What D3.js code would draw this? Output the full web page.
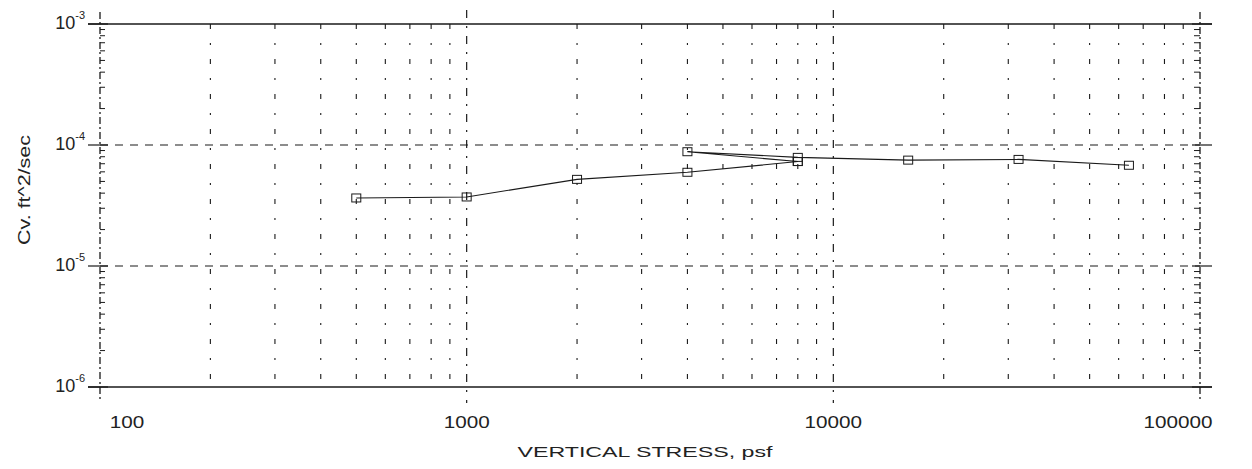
<!DOCTYPE html>
<html><head><meta charset="utf-8">
<script src="https://cdn.jsdelivr.net/npm/d3@7"></script>
<style>body{margin:0;background:#fff;} svg{display:block;} text{font-family:"Liberation Sans",Arial,sans-serif;fill:#222;}</style>
</head><body><svg id="c" width="1252" height="469"></svg>
<script>
const loadStress = [500, 1000, 2000, 4000, 8000];
const loadCv = [3.65e-5, 3.72e-5, 5.2e-5, 5.95e-5, 7.3e-5];
const cycleStress = [8000, 4000, 8000, 16000, 32000, 64000];
const cycleCv = [7.3e-5, 8.8e-5, 7.9e-5, 7.5e-5, 7.6e-5, 6.8e-5];
const xTicks = [100, 1000, 10000, 100000];
const xTickLabels = ["100", "1000", "10000", "100000"];
const yTicks = [1e-3, 1e-4, 1e-5, 1e-6];
const yTickExp = ["-3", "-4", "-5", "-6"];

const svg = d3.select("#c");
const x = d3.scaleLog().domain([100, 100000]).range([100, 1200]);
const y = d3.scaleLog().domain([1e-6, 1e-3]).range([387, 24]);
const ink = "#1a1a1a";

const xMinor = [];
[100, 1000, 10000].forEach(d => { for (let k = 2; k <= 9; k++) xMinor.push(d * k); });
const yMinor = [];
[1e-6, 1e-5, 1e-4].forEach(d => { for (let k = 2; k <= 9; k++) yMinor.push(d * k); });

svg.append("g").selectAll("line").data(xMinor).join("line")
  .attr("x1", d => x(d)).attr("x2", d => x(d)).attr("y1", y(1e-3)).attr("y2", y(1e-6))
  .attr("stroke", ink).attr("stroke-width", 1.1).attr("stroke-dasharray", "5,14,2,14");
svg.append("g").selectAll("line").data([1000, 10000]).join("line")
  .attr("x1", d => x(d)).attr("x2", d => x(d)).attr("y1", y(1e-3) - 14).attr("y2", y(1e-6) + 16)
  .attr("stroke", ink).attr("stroke-width", 1.2).attr("stroke-dasharray", "8,8,2,8");
svg.append("g").selectAll("line").data([100, 100000]).join("line")
  .attr("x1", d => x(d)).attr("x2", d => x(d)).attr("y1", y(1e-3) - 12).attr("y2", y(1e-6) + 14)
  .attr("stroke", ink).attr("stroke-width", 1.3).attr("stroke-dasharray", "7,3,2,3");
svg.append("g").selectAll("line").data([1e-4, 1e-5]).join("line")
  .attr("x1", x(100)).attr("x2", x(100000)).attr("y1", d => y(d)).attr("y2", d => y(d))
  .attr("stroke", ink).attr("stroke-width", 1.2).attr("stroke-dasharray", "8,7");
svg.append("g").selectAll("line").data([1e-3, 1e-6]).join("line")
  .attr("x1", x(100) - 12).attr("x2", x(100000) + 12).attr("y1", d => y(d)).attr("y2", d => y(d))
  .attr("stroke", ink).attr("stroke-width", 1.3);

svg.append("g").selectAll("line").data(yMinor).join("line")
  .attr("x1", x(100)).attr("x2", x(100) + 5).attr("y1", d => y(d)).attr("y2", d => y(d))
  .attr("stroke", ink).attr("stroke-width", 1);
svg.append("g").selectAll("line").data(yMinor).join("line")
  .attr("x1", x(100000)).attr("x2", x(100000) - 6).attr("y1", d => y(d)).attr("y2", d => y(d))
  .attr("stroke", ink).attr("stroke-width", 1);
svg.append("g").selectAll("line").data(yTicks).join("line")
  .attr("x1", x(100) - 12).attr("x2", x(100) + 8).attr("y1", d => y(d)).attr("y2", d => y(d))
  .attr("stroke", ink).attr("stroke-width", 1.2);
svg.append("g").selectAll("line").data(yTicks).join("line")
  .attr("x1", x(100000) - 8).attr("x2", x(100000) + 12).attr("y1", d => y(d)).attr("y2", d => y(d))
  .attr("stroke", ink).attr("stroke-width", 1.2);

const yl = svg.append("g").selectAll("text").data(yTicks).join("text")
  .attr("x", 85).attr("y", d => y(d) + 5).attr("text-anchor", "end").attr("font-size", 18);
yl.append("tspan").text("10");
yl.append("tspan").attr("dy", -10).attr("font-size", 11).text((d, i) => yTickExp[i]);

svg.append("g").selectAll("text").data(xTicks).join("text")
  .attr("x", (d, i) => x(d) + (i === 0 ? 27 : i === 3 ? -22 : 0))
  .attr("y", 428).attr("text-anchor", "middle").attr("font-size", 17)
  .attr("textLength", (d, i) => xTickLabels[i].length * 11.5).attr("lengthAdjust", "spacingAndGlyphs")
  .text((d, i) => xTickLabels[i]);

svg.append("text").attr("x", 645).attr("y", 457).attr("text-anchor", "middle")
  .attr("font-size", 15).attr("textLength", 255).attr("lengthAdjust", "spacingAndGlyphs")
  .text("VERTICAL STRESS, psf");
svg.append("text").attr("transform", "translate(30,190) rotate(-90)").attr("text-anchor", "middle")
  .attr("font-size", 16).attr("textLength", 110).attr("lengthAdjust", "spacingAndGlyphs")
  .text("Cv. ft^2/sec");

const line = d3.line().x(d => x(d[0])).y(d => y(d[1]));
const series = [d3.zip(loadStress, loadCv), d3.zip(cycleStress, cycleCv)];
series.forEach(s => {
  svg.append("path").datum(s).attr("d", line).attr("fill", "none")
    .attr("stroke", ink).attr("stroke-width", 1.1);
  svg.append("g").selectAll("rect").data(s).join("rect")
    .attr("x", d => x(d[0]) - 4.5).attr("y", d => y(d[1]) - 4)
    .attr("width", 9).attr("height", 8).attr("fill", "none")
    .attr("stroke", ink).attr("stroke-width", 1);
});
</script></body></html>
